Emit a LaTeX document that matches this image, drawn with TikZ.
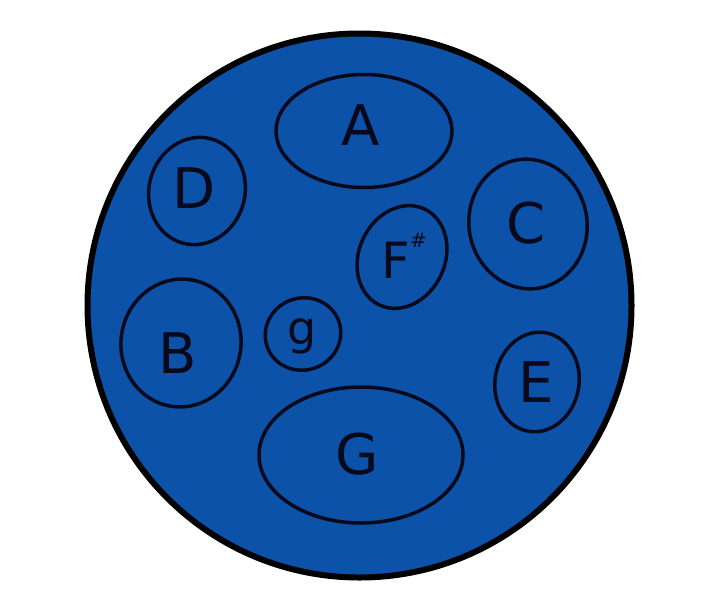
\documentclass[tikz,border=0pt]{standalone}
\usepackage{fontspec}
\setmainfont{DejaVu Sans}
\usetikzlibrary{shapes.geometric}
\definecolor{panblue}{RGB}{12,82,168}
\definecolor{rimline}{RGB}{8,10,28}
\tikzset{
  drum/.style={circle, draw=black, line width=6pt, fill=panblue, inner sep=0pt, outer sep=0pt, minimum size=544pt},
  tone/.style={ellipse, draw=rimline, line width=3.5pt, inner sep=0pt, outer sep=0pt},
  notelabel/.style={font=\fontsize{56}{56}\selectfont, text=rimline, inner sep=0pt, anchor=base}
}
\begin{document}
\begin{tikzpicture}[x=1pt,y=-1pt]
\useasboundingbox (0,0) rectangle (717,600);
\fill[white] (0,0) rectangle (717,600);
\node[drum] (pan) at (359.5,305.5) {};
\node[tone, minimum width=176pt, minimum height=113pt] (A) at (364,131) {};
\node[tone, minimum width=96pt, minimum height=108pt, rotate=-15] (D) at (197,191) {};
\node[tone, minimum width=118pt, minimum height=130pt, rotate=10] (C) at (528,224) {};
\node[tone, minimum width=86pt, minimum height=106pt, rotate=-25] (Fs) at (402,257) {};
\node[tone, minimum width=76pt, minimum height=72pt, rotate=20] (g) at (303,334) {};
\node[tone, minimum width=120pt, minimum height=128pt, rotate=-8] (B) at (181,343) {};
\node[tone, minimum width=84pt, minimum height=100pt, rotate=-10] (E) at (537,382) {};
\node[tone, minimum width=204pt, minimum height=136pt] (G) at (361,455) {};
\node[notelabel] (lA) at (361,145) {A};
\node[notelabel] (lD) at (194,208) {D};
\node[notelabel] (lC) at (526,243) {C};
\node[notelabel, font=\fontsize{50}{50}\selectfont] (lFs) at (404,278) {F\raisebox{0.62em}{\fontsize{20}{20}\selectfont\#}};
\node[notelabel, font=\fontsize{46}{46}\selectfont] (lg) at (302,344) {g};
\node[notelabel] (lB) at (178,373) {B};
\node[notelabel] (lE) at (536,402) {E};
\node[notelabel] (lG) at (357,474) {G};
\end{tikzpicture}
\end{document}
